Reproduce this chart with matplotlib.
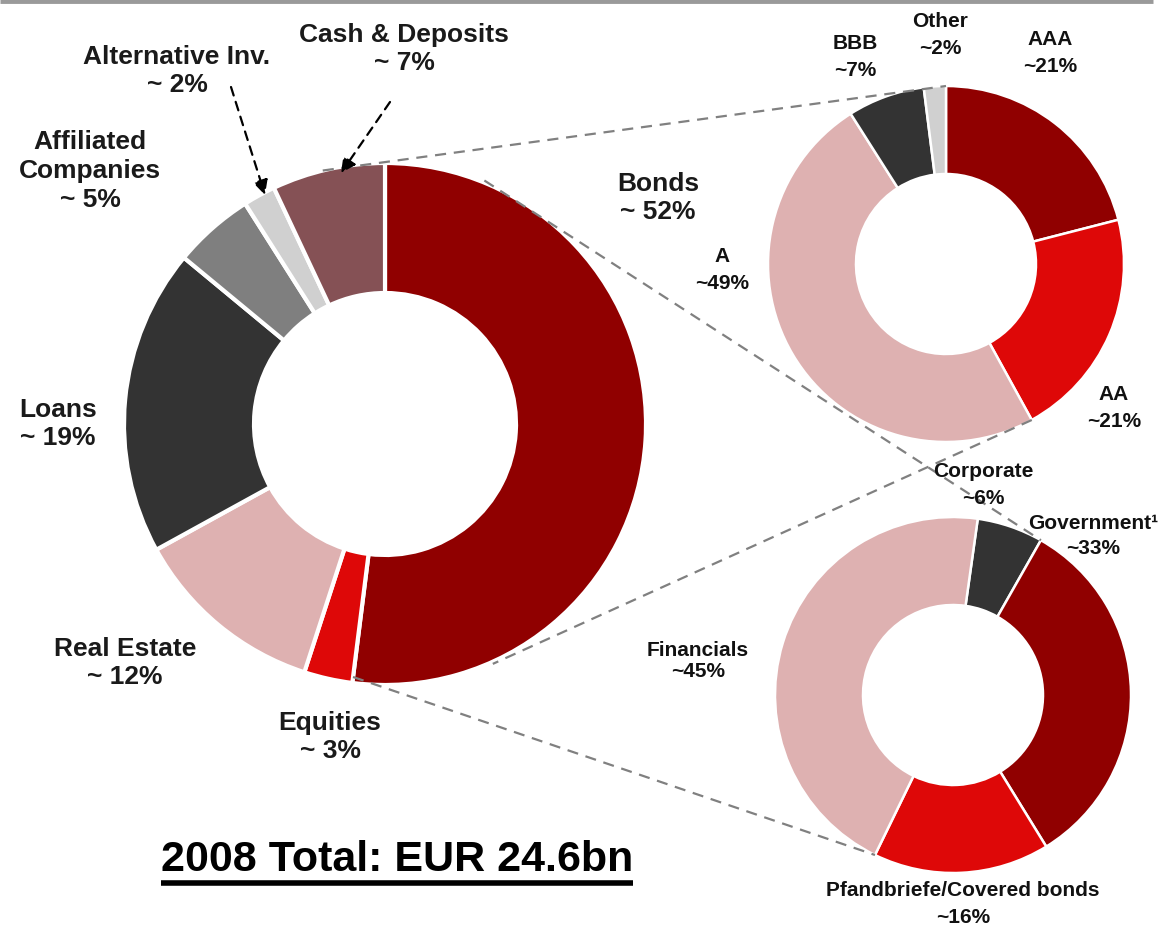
import numpy as np
import matplotlib
matplotlib.use('Agg')
import matplotlib.pyplot as plt

plt.rcParams['font.family'] = ['Liberation Sans', 'DejaVu Sans']

# data
asset_labels = ['Bonds', 'Equities', 'Real Estate', 'Loans',
                'Affiliated\nCompanies', 'Alternative Inv.', 'Cash & Deposits']
asset_share = [52, 3, 12, 19, 5, 2, 7]
asset_cols = ['#900000', '#DE0808', '#DEB1B1', '#333333', '#7F7F7F', '#D0D0D0', '#855155']

rating_labels = ['AAA', 'AA', 'A', 'BBB', 'Other']
rating_share = [21, 21, 49, 7, 2]
rating_cols = ['#900000', '#DE0808', '#DEB1B1', '#333333', '#D0D0D0']

issuer_labels = ['Corporate', 'Government\u00b9', 'Pfandbriefe/Covered bonds', 'Financials']
issuer_share = [6, 33, 16, 45]
issuer_cols = ['#333333', '#900000', '#DE0808', '#DEB1B1']

total_text = '2008 Total: EUR 24.6bn'

W, H = 1160, 928
fig = plt.figure(figsize=(11.6, 9.28), dpi=100)
ax = fig.add_axes([0, 0, 1, 1])

def Y(y):
    return H - y

# donut geometry (pixel layout)
big_c, big_r, big_w = (385, Y(425)), 261, 130
top_c, top_r, top_w = (946, Y(265)), 178, 88
bot_c, bot_r, bot_w = (953, Y(696)), 178, 88

ax.pie(asset_share, colors=asset_cols, startangle=90, counterclock=False,
       center=big_c, radius=big_r, explode=[0.012, 0, 0, 0, 0, 0, 0],
       wedgeprops=dict(width=big_w, edgecolor='white', linewidth=3))
ax.pie(rating_share, colors=rating_cols, startangle=90, counterclock=False,
       center=top_c, radius=top_r,
       wedgeprops=dict(width=top_w, edgecolor='white', linewidth=1.8))
ax.pie(issuer_share, colors=issuer_cols, startangle=82, counterclock=False,
       center=bot_c, radius=bot_r,
       wedgeprops=dict(width=bot_w, edgecolor='white', linewidth=1.8))

def ring_pt(c, r, ang):
    a = np.deg2rad(ang)
    return c[0] + r * np.cos(a), c[1] + r * np.sin(a)

def boundary(shares, start, k):
    # angle of the k-th wedge boundary, clockwise from start
    return start - 3.6 * sum(shares[:k])

# dashed connectors between the bonds wedge and the detail donuts
links = [
    (ring_pt(big_c, big_r, 103.8), ring_pt(top_c, top_r, 90)),
    (ring_pt(big_c, big_r + 2, 67.8), ring_pt(bot_c, bot_r, boundary(issuer_share, 82, 1))),
    (ring_pt(top_c, top_r, boundary(rating_share, 90, 2)), ring_pt(big_c, big_r + 2, -65.8)),
    (ring_pt(big_c, big_r - 6, boundary(asset_share, 90, 1)), ring_pt(bot_c, bot_r, boundary(issuer_share, 82, 3))),
]
for p0, p1 in links:
    ax.plot([p0[0], p1[0]], [p0[1], p1[1]], color='#808080', lw=1.6,
            dashes=(5, 3.5), zorder=5)

# labels of the big donut
big_kw = dict(fontsize=19, fontweight='bold', color='#1a1a1a', ha='center',
              va='center', linespacing=1.25, zorder=6)
big_pos = [(658, 198), (330, 737), (125, 663), (58, 424), (90, 171), (177, 71), (404, 49)]
for lab, s, (x, y) in zip(asset_labels, asset_share, big_pos):
    ax.text(x, Y(y), f'{lab}\n~ {s}%', **big_kw)

small_kw = dict(fontsize=15, fontweight='bold', color='#111111', ha='center',
                va='center', linespacing=1.5, zorder=6)
rating_pos = [(1050, 53), (1114, 408), (722, 270), (855, 57), (940, 35)]
for lab, s, (x, y) in zip(rating_labels, rating_share, rating_pos):
    ax.text(x, Y(y), f'{lab}\n~{s}%', **small_kw)

issuer_pos = [(983, 485), (1093, 536), (963, 904), (698, 661)]
issuer_ls = [1.5, 1.45, 1.5, 1.15]
for lab, s, (x, y), ls in zip(issuer_labels, issuer_share, issuer_pos, issuer_ls):
    kw = dict(small_kw)
    kw['linespacing'] = ls
    ax.text(x, Y(y), f'{lab}\n~{s}%', **kw)

# dashed arrows to the thin slices
for (x0, y0), (x1, y1) in [((231, 88), (265, 196)), ((390, 103), (341, 174))]:
    ax.annotate('', xy=(x1, Y(y1)), xytext=(x0, Y(y0)),
                arrowprops=dict(arrowstyle='-|>', color='black', lw=1.6,
                                linestyle=(0, (4, 3)), mutation_scale=22,
                                shrinkA=0, shrinkB=0), zorder=7)

# title with underline
t = ax.text(397, Y(860), total_text, fontsize=31, fontweight='bold',
            color='black', ha='center', va='center')

ax.set_xlim(0, W)
ax.set_ylim(0, H)
ax.set_aspect('equal')
ax.axis('off')

fig.canvas.draw()
bb = t.get_window_extent().transformed(ax.transData.inverted())
ax.plot([bb.x0, bb.x1], [Y(884), Y(884)], color='black', lw=4, solid_capstyle='butt')

# grey rule at the top edge
ax.plot([0, 1153], [Y(2), Y(2)], color='#9a9a9a', lw=3.5, solid_capstyle='butt')

fig.savefig('out.png', dpi=100)
